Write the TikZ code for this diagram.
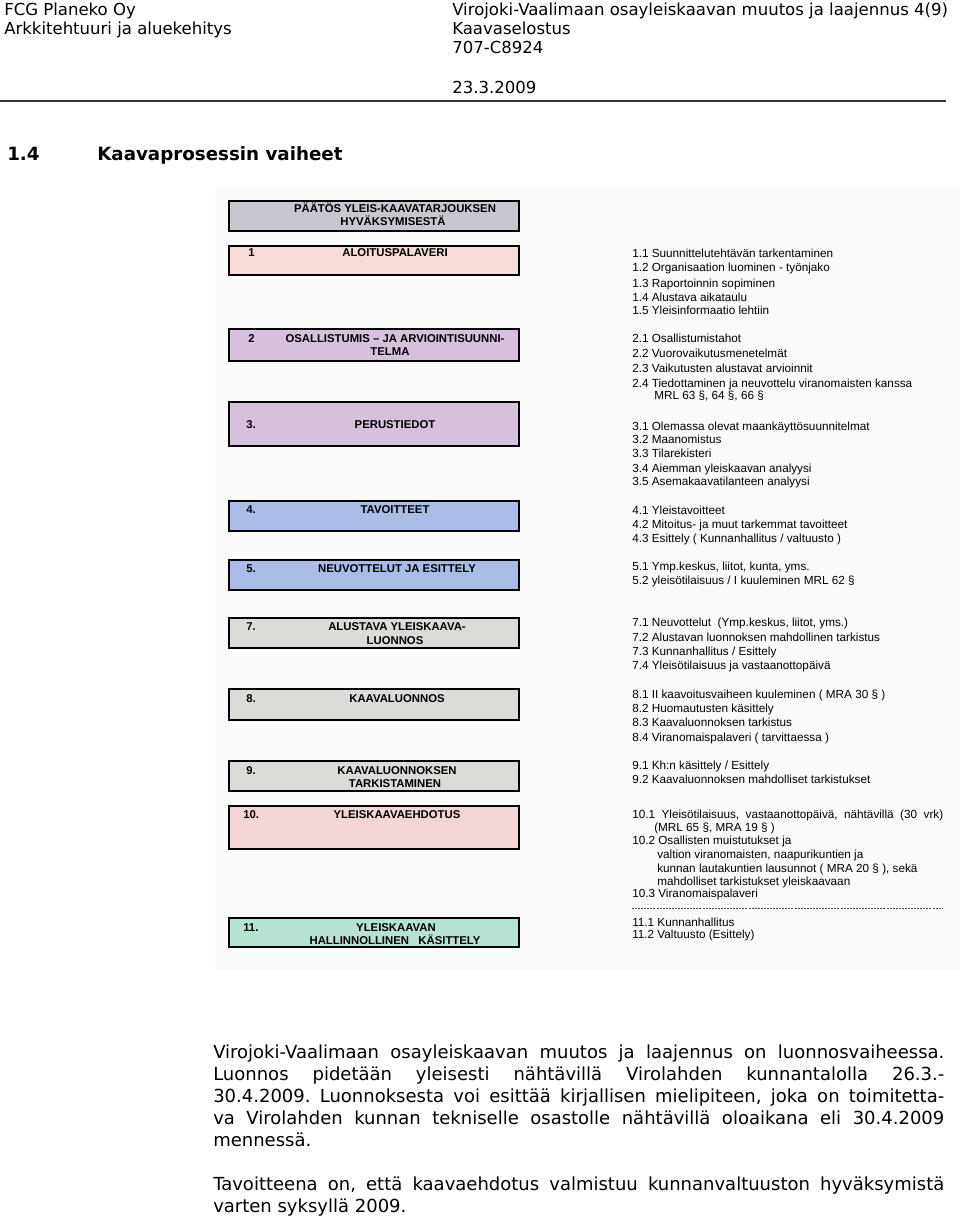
\documentclass[tikz,border=0pt]{standalone}
\usepackage{fontspec}
\setmainfont{DejaVu Sans}
\newfontfamily\verd{DejaVu Sans}
\newfontfamily\arial{Liberation Sans}
\definecolor{cpaatos}{HTML}{CAC6D0}
\definecolor{cpink}{HTML}{F5DCD8}
\definecolor{clav}{HTML}{D6C0DC}
\definecolor{cblue}{HTML}{A9BCE6}
\definecolor{cgray}{HTML}{DADCD8}
\definecolor{crose}{HTML}{F2D6D6}
\definecolor{cmint}{HTML}{B6E2D2}
\begin{document}
\frenchspacing
\begin{tikzpicture}[x=0.75pt,y=-0.75pt,
  hdr/.style={anchor=base west, inner sep=0pt, font=\verd\fontsize{12.4pt}{14pt}\selectfont},
  ttl/.style={anchor=base west, inner sep=0pt, font=\verd\bfseries\fontsize{13.7pt}{16pt}\selectfont},
  body/.style={anchor=base west, inner sep=0pt, font=\verd\fontsize{13.5pt}{16pt}\selectfont},
  stage/.style={draw=black, line width=1.9pt, minimum width=217.5pt, inner sep=0pt},
  num/.style={anchor=base west, inner sep=0pt, font=\arial\bfseries\fontsize{8.5pt}{10pt}\selectfont},
  lbl/.style={anchor=base, inner sep=0pt, font=\arial\bfseries\fontsize{8.5pt}{10pt}\selectfont},
  item/.style={anchor=base west, inner sep=0pt, font=\arial\fontsize{8.8pt}{10pt}\selectfont}]
\useasboundingbox (0,0) rectangle (960,1219);
\fill[white] (0,0) rectangle (960,1219);
% scanned area
\fill[black!2] (215,186) rectangle (960,970);

% header
\node[hdr] (h1) at (4,16) {FCG Planeko Oy};
\node[hdr] (h2) at (4,35) {Arkkitehtuuri ja aluekehitys};
\node[hdr] (h3) at (452,16) {Virojoki-Vaalimaan osayleiskaavan muutos ja laajennus 4(9)};
\node[hdr] (h4) at (452,35) {Kaavaselostus};
\node[hdr] (h5) at (452,54) {707-C8924};
\node[hdr] (h6) at (452,94) {23.3.2009};
\coordinate (r1) at (0,101);
\coordinate (r2) at (946,101);
\draw[line width=1.1pt, black!80] (r1) -- (r2);

% title
\node[ttl] (t1) at (7,161) {1.4};
\node[ttl] (t2) at (97,161) {Kaavaprosessin vaiheet};

% stage boxes
\node[stage, fill=cpaatos, minimum height=22.5pt] (b0) at (374,216) {};
\node[stage, fill=cpink, minimum height=21.75pt] (b1) at (374,260.5) {};
\node[stage, fill=clav, minimum height=24pt] (b2) at (374,345) {};
\node[stage, fill=clav, minimum height=33pt] (b3) at (374,424) {};
\node[stage, fill=cblue, minimum height=22.5pt] (b4) at (374,516) {};
\node[stage, fill=cblue, minimum height=22.5pt] (b5) at (374,575) {};
\node[stage, fill=cgray, minimum height=22.5pt] (b7) at (374,633) {};
\node[stage, fill=cgray, minimum height=23.25pt] (b8) at (374,704.5) {};
\node[stage, fill=cgray, minimum height=22.5pt] (b9) at (374,776) {};
\node[stage, fill=crose, minimum height=32.25pt] (b10) at (374,827.5) {};
\node[stage, fill=cmint, minimum height=21.75pt] (b11) at (374,932.5) {};

% stage labels
\node[lbl] (l0a) at (395,213) {PÄÄTÖS YLEIS-KAAVATARJOUKSEN};
\node[lbl] (l0b) at (393,226) {HYVÄKSYMISESTÄ};
\node[num] (n1) at (248,257) {1};
\node[lbl] (l1) at (395,257) {ALOITUSPALAVERI};
\node[num] (n2) at (248,342) {2};
\node[lbl] (l2a) at (395,342) {OSALLISTUMIS – JA ARVIOINTISUUNNI-};
\node[lbl] (l2b) at (390,355) {TELMA};
\node[num] (n3) at (246,428) {3.};
\node[lbl] (l3) at (395,428) {PERUSTIEDOT};
\node[num] (n4) at (246,513) {4.};
\node[lbl] (l4) at (395,513) {TAVOITTEET};
\node[num] (n5) at (246,572) {5.};
\node[lbl] (l5) at (397,572) {NEUVOTTELUT JA ESITTELY};
\node[num] (n7) at (246,630) {7.};
\node[lbl] (l7a) at (397,630) {ALUSTAVA YLEISKAAVA-};
\node[lbl] (l7b) at (395,644) {LUONNOS};
\node[num] (n8) at (246,702) {8.};
\node[lbl] (l8) at (397,702) {KAAVALUONNOS};
\node[num] (n9) at (246,774) {9.};
\node[lbl] (l9a) at (397,774) {KAAVALUONNOKSEN};
\node[lbl] (l9b) at (395,787) {TARKISTAMINEN};
\node[num] (n10) at (243,818) {10.};
\node[lbl] (l10) at (397,818) {YLEISKAAVAEHDOTUS};
\node[num] (n11) at (243,931) {11.};
\node[lbl] (l11a) at (396,931) {YLEISKAAVAN};
\node[lbl] (l11b) at (395,944) {HALLINNOLLINEN\ \ \ KÄSITTELY};

% right column
\node[item] (i11) at (632,258) {1.1 Suunnittelutehtävän tarkentaminen};
\node[item] (i12) at (632,272) {1.2 Organisaation luominen - työnjako};
\node[item] (i13) at (632,287) {1.3 Raportoinnin sopiminen};
\node[item] (i14) at (632,301) {1.4 Alustava aikataulu};
\node[item] (i15) at (632,315) {1.5 Yleisinformaatio lehtiin};
\node[item] (i21) at (632,342) {2.1 Osallistumistahot};
\node[item] (i22) at (632,357) {2.2 Vuorovaikutusmenetelmät};
\node[item] (i23) at (632,372) {2.3 Vaikutusten alustavat arvioinnit};
\node[item] (i24) at (632,387) {2.4 Tiedottaminen ja neuvottelu viranomaisten kanssa};
\node[item] (i24b) at (654,399) {MRL 63 §, 64 §, 66 §};
\node[item] (i31) at (632,430) {3.1 Olemassa olevat maankäyttösuunnitelmat};
\node[item] (i32) at (632,443) {3.2 Maanomistus};
\node[item] (i33) at (632,457) {3.3 Tilarekisteri};
\node[item] (i34) at (632,472) {3.4 Aiemman yleiskaavan analyysi};
\node[item] (i35) at (632,485) {3.5 Asemakaavatilanteen analyysi};
\node[item] (i41) at (632,514) {4.1 Yleistavoitteet};
\node[item] (i42) at (632,528) {4.2 Mitoitus- ja muut tarkemmat tavoitteet};
\node[item] (i43) at (632,542) {4.3 Esittely ( Kunnanhallitus / valtuusto )};
\node[item] (i51) at (632,570) {5.1 Ymp.keskus, liitot, kunta, yms.};
\node[item] (i52) at (632,584) {5.2 yleisötilaisuus / I kuuleminen MRL 62 §};
\node[item] (i71) at (632,626) {7.1 Neuvottelut\ \ (Ymp.keskus, liitot, yms.)};
\node[item] (i72) at (632,641) {7.2 Alustavan luonnoksen mahdollinen tarkistus};
\node[item] (i73) at (632,655) {7.3 Kunnanhallitus / Esittely};
\node[item] (i74) at (632,669) {7.4 Yleisötilaisuus ja vastaanottopäivä};
\node[item] (i81) at (632,698) {8.1 II kaavoitusvaiheen kuuleminen ( MRA 30 § )};
\node[item] (i82) at (632,712) {8.2 Huomautusten käsittely};
\node[item] (i83) at (632,726) {8.3 Kaavaluonnoksen tarkistus};
\node[item] (i84) at (632,741) {8.4 Viranomaispalaveri ( tarvittaessa )};
\node[item] (i91) at (632,769) {9.1 Kh:n käsittely / Esittely};
\node[item] (i92) at (632,783) {9.2 Kaavaluonnoksen mahdolliset tarkistukset};
\node[item] (i101) at (632,818) {\makebox[233.25pt][s]{10.1 Yleisötilaisuus, vastaanottopäivä, nähtävillä (30 vrk)}};
\node[item] (i101b) at (654,831) {(MRL 65 §, MRA 19 § )};
\node[item] (i102) at (632,844) {10.2 Osallisten muistutukset ja};
\node[item] (i102b) at (657,858) {valtion viranomaisten, naapurikuntien ja};
\node[item] (i102c) at (657,872) {kunnan lautakuntien lausunnot ( MRA 20 § ), sekä};
\node[item] (i102d) at (657,885) {mahdolliset tarkistukset yleiskaavaan};
\node[item] (i103) at (632,897) {10.3 Viranomaispalaveri};
\coordinate (d1) at (632,908);
\coordinate (d2) at (943,908);
\draw[black!70, line width=0.6pt, dash pattern=on 1.5pt off 0.8pt] (d1) -- (d2);
\node[item] (i111) at (632,926) {11.1 Kunnanhallitus};
\node[item] (i112) at (632,938) {11.2 Valtuusto (Esittely)};

% body text
\node[body] (p1) at (213,1058) {\makebox[548.25pt][s]{Virojoki-Vaalimaan osayleiskaavan muutos ja laajennus on luonnosvaiheessa.}};
\node[body] (p2) at (213,1080) {\makebox[548.25pt][s]{Luonnos pidetään yleisesti nähtävillä Virolahden kunnantalolla 26.3.-}};
\node[body] (p3) at (213,1102) {\makebox[548.25pt][s]{30.4.2009. Luonnoksesta voi esittää kirjallisen mielipiteen, joka on toimitetta-}};
\node[body] (p4) at (213,1124) {\makebox[548.25pt][s]{va Virolahden kunnan tekniselle osastolle nähtävillä oloaikana eli 30.4.2009}};
\node[body] (p5) at (213,1146) {mennessä.};
\node[body] (p6) at (213,1190) {\makebox[548.25pt][s]{Tavoitteena on, että kaavaehdotus valmistuu kunnanvaltuuston hyväksymistä}};
\node[body] (p7) at (213,1212) {varten syksyllä 2009.};
\end{tikzpicture}
\end{document}
